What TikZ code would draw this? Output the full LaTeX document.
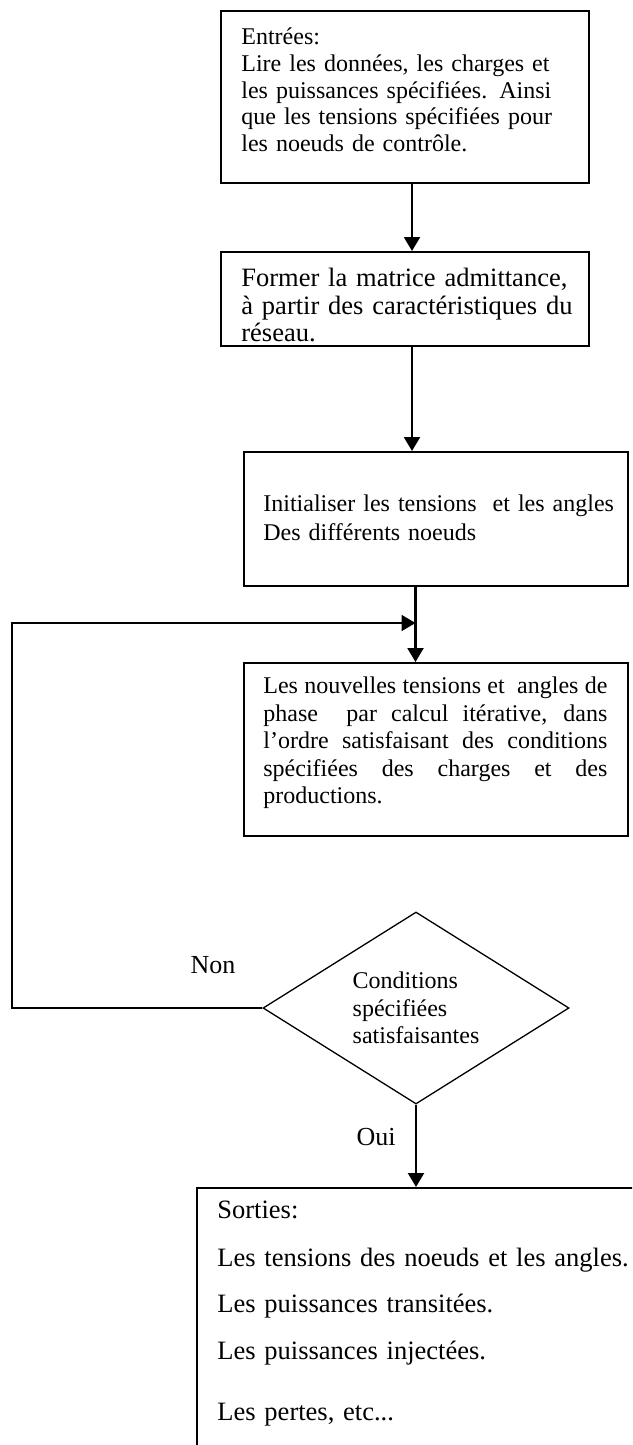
\documentclass[tikz,border=0pt]{standalone}
\usepackage{fontspec}
\setmainfont{Liberation Serif}
\usetikzlibrary{arrows.meta,shapes.geometric}
\begin{document}
\begin{tikzpicture}[x=0.5pt,y=-0.5pt,
  box/.style={draw, line width=0.85pt, rectangle, inner sep=0pt, anchor=north west},
  txt/.style={inner sep=0pt, anchor=west, align=left, font=\fontsize{12pt}{13.3pt}\selectfont},
  txtb/.style={inner sep=0pt, anchor=west, align=left, font=\fontsize{13.25pt}{13.75pt}\selectfont},
  arr/.style={line width=1.1pt, -{Triangle[width=8pt,length=7pt]}},
  lab/.style={inner sep=0pt, font=\fontsize{13pt}{15pt}\selectfont}]
\useasboundingbox (0,0) rectangle (632,1445);
\clip (0,0) rectangle (632,1445);

% boxes
\node[box, minimum width=184pt, minimum height=86pt] (b1) at (220,10) {};
\node[box, minimum width=184pt, minimum height=47pt] (b2) at (220,251) {};
\node[box, minimum width=192pt, minimum height=67pt] (b3) at (243,451) {};
\node[box, minimum width=192pt, minimum height=86.5pt] (b4) at (243,662) {};
\node[box, minimum width=250pt, minimum height=200pt] (b5) at (196,1187) {};

% texts
\node[txt, text width=170pt] (t1) at (241,90)
  {Entrées:\\Lire les données, les charges et\\les puissances spécifiées. Ainsi\\que les tensions spécifiées pour\\les noeuds de contrôle.};
\node[txtb, text width=175pt] (t2) at (241,305)
  {Former la matrice admittance,\\à partir des caractéristiques du\\réseau.};
\node[txt, text width=180pt, font=\fontsize{12pt}{14.5pt}\selectfont] (t3) at (263,517.5)
  {Initialiser les tensions\ \ et les angles\\Des différents noeuds};
\node[inner sep=0pt, anchor=west, align=justify, text width=172pt,
      font=\fontsize{12pt}{13.75pt}\selectfont] (t4) at (263,743)
  {Les nouvelles tensions et\ \ angles de\linebreak
   phase\ \ par calcul itérative, dans\linebreak
   l’ordre satisfaisant des conditions\linebreak
   spécifiées des charges et des\linebreak
   productions.};
\node[txtb, text width=220pt, font=\fontsize{13.25pt}{15pt}\selectfont] (t5) at (217,1314)
  {Sorties:\\[9pt]Les tensions des noeuds et les angles.\\[8pt]Les puissances transitées.\\[8.5pt]Les puissances injectées.\\[15.5pt]Les pertes, etc...};

% decision
\node[draw, diamond, aspect=1.6, minimum width=153pt, minimum height=96pt,
      inner sep=0pt, line width=0.65pt, align=left,
      font=\fontsize{12pt}{13.75pt}\selectfont] (d) at (416,1008)
  {Conditions\\spécifiées\\satisfaisantes};

% labels
\node[lab] (non) at (213,965) {Non};
\node[lab] (oui) at (376,1137) {Oui};

% connectors
\coordinate (xa) at (412,0);
\coordinate (xb) at (415.5,0);
\coordinate (ltop) at (12,623);
\coordinate (lend) at (415.5,623);
\draw[arr] (b1.south -| xa) -- (b2.north -| xa);
\draw[arr] (b2.south -| xa) -- (b3.north -| xa);
\draw[arr] (b3.south -| xb) -- (b4.north -| xb);
\draw[arr, line width=1pt] (d.west) -- (d.west -| ltop) -- (ltop) -- (lend);
\draw[arr] (d.south) -- (b5.north -| d.south);
\end{tikzpicture}
\end{document}
